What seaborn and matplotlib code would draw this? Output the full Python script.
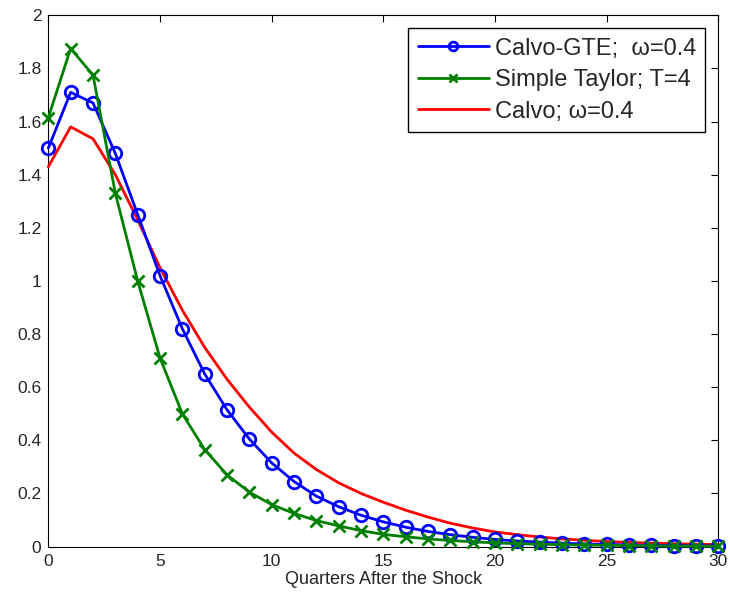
import numpy as np
import pandas as pd
import matplotlib
matplotlib.use("Agg")
import matplotlib.pyplot as plt
import seaborn as sns

quarters = list(range(31))
calvo_gte = [1.50, 1.71, 1.67, 1.48, 1.25, 1.02, 0.82, 0.65, 0.515, 0.405, 0.315,
             0.245, 0.19, 0.15, 0.118, 0.093, 0.073, 0.057, 0.045, 0.035, 0.027,
             0.021, 0.017, 0.013, 0.010, 0.008, 0.006, 0.005, 0.004, 0.003, 0.002]
simple_taylor = [1.615, 1.875, 1.775, 1.33, 1.0, 0.71, 0.50, 0.365, 0.27, 0.205, 0.158,
                 0.125, 0.098, 0.078, 0.06, 0.046, 0.037, 0.029, 0.023, 0.018, 0.014,
                 0.011, 0.009, 0.007, 0.006, 0.005, 0.004, 0.003, 0.002, 0.002, 0.001]
calvo = [1.43, 1.58, 1.535, 1.40, 1.23, 1.05, 0.89, 0.75, 0.63, 0.525, 0.431,
         0.352, 0.29, 0.24, 0.2, 0.167, 0.137, 0.111, 0.088, 0.07, 0.055,
         0.045, 0.036, 0.029, 0.024, 0.019, 0.016, 0.013, 0.011, 0.009, 0.008]

labels = ["Calvo-GTE;  \u03c9=0.4", "Simple Taylor; T=4", "Calvo; \u03c9=0.4"]

sns.set_theme(style="white")
plt.rcParams["font.family"] = ["Liberation Sans", "DejaVu Sans"]
plt.rcParams["xtick.direction"] = "in"
plt.rcParams["ytick.direction"] = "in"

fig = plt.figure(figsize=(7.3, 6.07), dpi=100)
ax = fig.add_axes([0.0662, 0.0995, 0.9180, 0.8753])

sns.lineplot(x=quarters, y=calvo_gte, ax=ax, color=(0, 0, 1), linewidth=2,
             marker="o", markersize=9, markerfacecolor="none", markeredgecolor=(0, 0, 1),
             markeredgewidth=2, label=labels[0], clip_on=False, zorder=3)
sns.lineplot(x=quarters, y=simple_taylor, ax=ax, color=(0, 0.5, 0), linewidth=2,
             marker="x", markersize=8, markeredgecolor=(0, 0.5, 0), markeredgewidth=2,
             label=labels[1], clip_on=False, zorder=4)
sns.lineplot(x=quarters, y=calvo, ax=ax, color=(1, 0, 0), linewidth=2, label=labels[2],
             clip_on=False, zorder=2)

ax.set_xlim(0, 30)
ax.set_ylim(0, 2)
ax.set_xticks(range(0, 31, 5))
ax.set_yticks(np.arange(0, 2.01, 0.2))
ax.set_yticklabels([f"{v:g}" for v in np.round(np.arange(0, 2.01, 0.2), 1)])
ax.tick_params(axis="both", labelsize=12.5, top=True, right=True, length=5, width=0.8,
               color="black", pad=5)
ax.set_xlabel("Quarters After the Shock", fontsize=13, labelpad=2)
for s in ax.spines.values():
    s.set_color("black")
    s.set_linewidth(0.8)
    s.set_zorder(1)

leg = ax.legend(loc="upper right", fontsize=17, frameon=True, fancybox=False,
                framealpha=1, edgecolor="black", borderaxespad=0.55, markerscale=0.7,
                handlelength=3.0, labelspacing=0.4, borderpad=0.4, handletextpad=0.25)
leg.get_frame().set_linewidth(1)
leg.set_zorder(5)

fig.savefig("out.png", dpi=100)
